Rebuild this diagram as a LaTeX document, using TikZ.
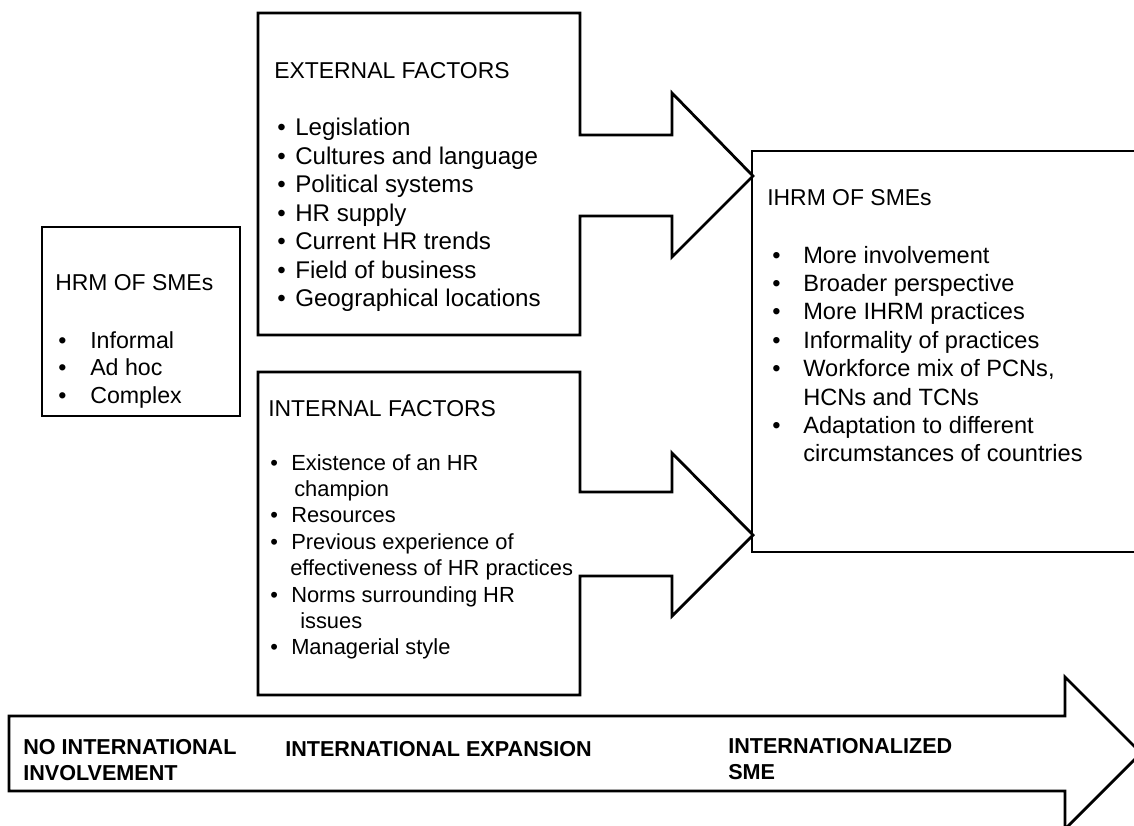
\documentclass[tikz,border=0pt]{standalone}
\usepackage{fontspec}
\setmainfont{Liberation Sans}
\begin{document}
\begin{tikzpicture}[x=0.75pt,y=-0.75pt,
  shape line/.style={draw=black, line width=2.1pt, line join=miter},
  hd/.style={anchor=base west, inner sep=0pt, font=\fontsize{17.2}{20}\selectfont},
  ext/.style={anchor=base west, inner sep=0pt, font=\fontsize{18.1}{21}\selectfont},
  int/.style={anchor=base west, inner sep=0pt, font=\fontsize{16.4}{20}\selectfont},
  rgt/.style={anchor=base west, inner sep=0pt, font=\fontsize{17.7}{21}\selectfont},
  hrm/.style={anchor=base west, inner sep=0pt, font=\fontsize{17.4}{21}\selectfont},
  bld/.style={anchor=base west, inner sep=0pt, font=\fontsize{16.2}{19}\selectfont\bfseries},
]
\useasboundingbox (0,0) rectangle (1134,825);
\clip (0,0) rectangle (1134,825);

% shapes
\draw[shape line] (752,151) rectangle (1170,552);
\draw[shape line] (42,227) rectangle (240,416);
\draw[shape line] (258,13) -- (580,13) -- (580,135) -- (672,135) -- (672,93) -- (753,176)
  -- (672,257) -- (672,216) -- (580,216) -- (580,335) -- (258,335) -- cycle;
\draw[shape line] (258,372) -- (580,372) -- (580,492) -- (672,492) -- (672,453) -- (753,535)
  -- (672,616) -- (672,576) -- (580,576) -- (580,695) -- (258,695) -- cycle;
\draw[shape line] (9,716) -- (1065,716) -- (1065,677) -- (1141,753) -- (1065,829)
  -- (1065,791) -- (9,791) -- cycle;

% external factors
\node[hd] (exth) at (274,78) {EXTERNAL FACTORS};
\foreach \t [count=\i from 0] in {Legislation, Cultures and language, Political systems,
  HR supply, Current HR trends, Field of business, Geographical locations} {
  \node[ext] (eb\i) at (277,{135.7+28.5*\i}) {•};
  \node[ext] (et\i) at (295,{135.7+28.5*\i}) {\t};
}

% HRM of SMEs
\node[hd] (hrmh) at (55,290) {HRM OF SMEs};
\foreach \t [count=\i from 0] in {Informal, Ad hoc, Complex} {
  \node[hrm] (hb\i) at (58,{348+27.5*\i}) {•};
  \node[hrm] (ht\i) at (90,{348+27.5*\i}) {\t};
}

% internal factors
\node[hd] (inth) at (268,416) {INTERNAL FACTORS};
\node[int] (ib0) at (270,470) {•};
\node[int] (it0) at (291,470) {Existence of an HR};
\node[int] (it1) at (294,496.4) {champion};
\node[int] (ib2) at (270,522.8) {•};
\node[int] (it2) at (291,522.8) {Resources};
\node[int] (ib3) at (270,549.2) {•};
\node[int] (it3) at (291,549.2) {Previous experience of};
\node[int] (it4) at (290,575.6) {effectiveness of HR practices};
\node[int] (ib5) at (270,602) {•};
\node[int] (it5) at (291,602) {Norms surrounding HR};
\node[int] (it6) at (300,628.4) {issues};
\node[int] (ib7) at (270,654.8) {•};
\node[int] (it7) at (291,654.8) {Managerial style};

% IHRM of SMEs
\node[hd] (ihrmh) at (767,205) {IHRM OF SMEs};
\node[rgt] (rb0) at (772,263) {•};
\node[rgt] (rt0) at (803,263) {More involvement};
\node[rgt] (rb1) at (772,291.4) {•};
\node[rgt] (rt1) at (803,291.4) {Broader perspective};
\node[rgt] (rb2) at (772,319.8) {•};
\node[rgt] (rt2) at (803,319.8) {More IHRM practices};
\node[rgt] (rb3) at (772,348.2) {•};
\node[rgt] (rt3) at (803,348.2) {Informality of practices};
\node[rgt] (rb4) at (772,376.6) {•};
\node[rgt] (rt4) at (803,376.6) {Workforce mix of PCNs,};
\node[rgt] (rt5) at (803,405) {HCNs and TCNs};
\node[rgt] (rb6) at (772,433.4) {•};
\node[rgt] (rt6) at (803,433.4) {Adaptation to different};
\node[rgt] (rt7) at (803,461.8) {circumstances of countries};

% bottom arrow labels
\node[bld] (no1) at (23,754) {NO INTERNATIONAL};
\node[bld] (no2) at (23,780) {INVOLVEMENT};
\node[bld] (exp) at (285,756) {INTERNATIONAL EXPANSION};
\node[bld] (iz1) at (728,753) {INTERNATIONALIZED};
\node[bld] (iz2) at (728,779) {SME};
\end{tikzpicture}
\end{document}
